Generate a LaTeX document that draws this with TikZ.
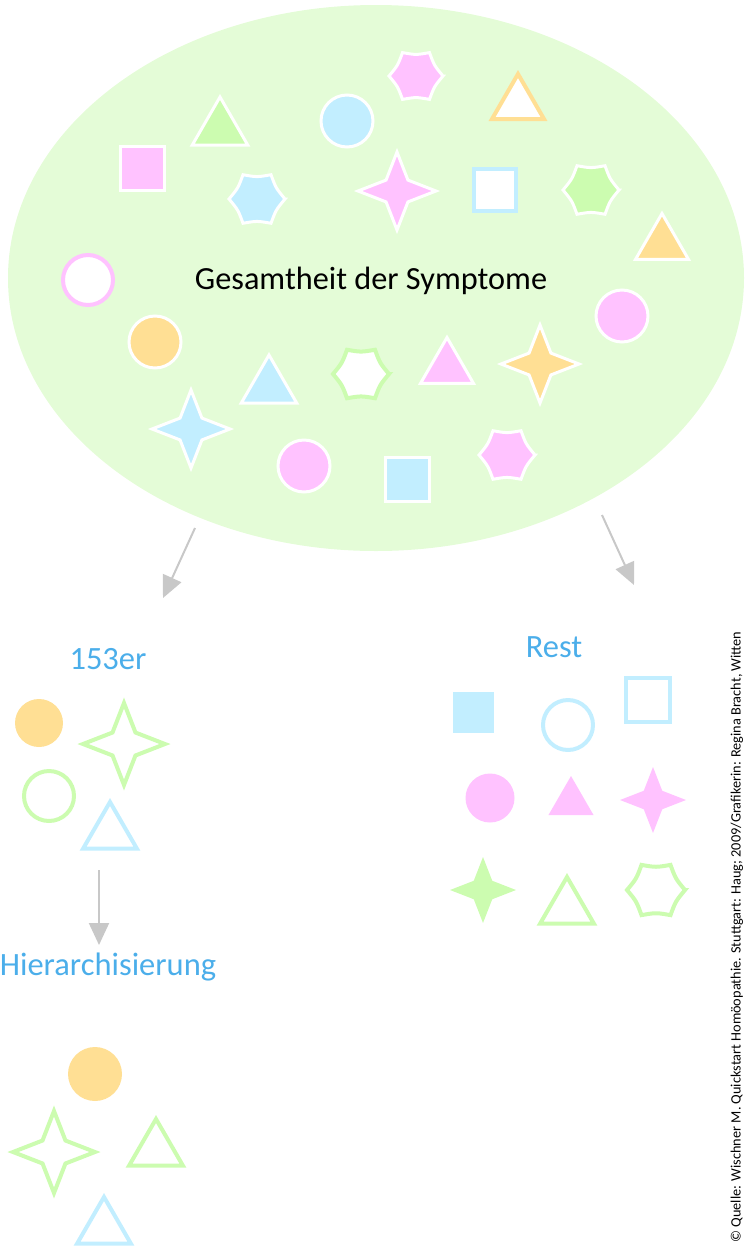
\documentclass[tikz,border=0pt]{standalone}
\usepackage{fontspec}
\setmainfont{Carlito}
\usetikzlibrary{arrows.meta}
\definecolor{ellfill}{HTML}{E4FCD7}
\definecolor{cpink}{HTML}{FFC2FF}
\definecolor{ccyan}{HTML}{C2EEFF}
\definecolor{cgreen}{HTML}{CCFCB0}
\definecolor{corange}{HTML}{FFDF94}
\definecolor{cblue}{HTML}{4BAEEA}
\definecolor{cgray}{HTML}{C8C8C8}
\tikzset{
  star4/.pic={\path[pic actions] (0,-1)--(0.28,-0.28)--(1,0)--(0.28,0.28)--(0,1)--(-0.28,0.28)--(-1,0)--(-0.28,-0.28)--cycle;},
  hexstar/.pic={\path[pic actions] (0:1) .. controls (30:0.78) .. (60:1) .. controls (90:0.78) .. (120:1) .. controls (150:0.78) .. (180:1) .. controls (210:0.78) .. (240:1) .. controls (270:0.78) .. (300:1) .. controls (330:0.78) .. cycle;},
  tri/.pic={\path[pic actions] (270:1)--(30:1)--(150:1)--cycle;},
  sq/.pic={\path[pic actions] (-0.5,-0.5) rectangle (0.5,0.5);},
  circ/.pic={\path[pic actions] (0,0) circle[radius=1pt];},
  inb/.style={draw=white, line width=3pt, line join=miter},
  fillp/.style={inb, fill=cpink},
  fillc/.style={inb, fill=ccyan},
  fillg/.style={inb, fill=cgreen},
  fillo/.style={inb, fill=corange},
  outl/.style={draw=#1, line width=4pt, fill=white},
  solid/.style={fill=#1, draw=none},
  lbl/.style={text=cblue, font=\fontsize{32.5}{36}\selectfont, inner sep=0pt},
  arr/.style={draw=cgray, line width=2pt, -{Triangle[width=20pt,length=22pt]}},
}
\begin{document}
\begin{tikzpicture}[x=1pt,y=-1pt]
\useasboundingbox (0,0) rectangle (750,1248);
% big ellipse
\path[fill=ellfill] (376,278) ellipse[x radius=368pt, y radius=273pt];
% shapes inside ellipse
\pic[fillp, scale=27] at (416,76) {hexstar};
\pic[outl=corange, scale=30] at (518,104) {tri};
\pic[fillg, scale=32] at (220,129) {tri};
\pic[fillc, scale=26] at (347,121) {circ};
\pic[fillp, scale=44] at (142,168) {sq};
\pic[fillc, scale=28] at (257,199) {hexstar};
\pic[fillp, scale=39] at (397,191) {star4};
\pic[outl=ccyan, scale=42] at (495,190) {sq};
\pic[fillg, scale=28] at (591,190) {hexstar};
\pic[fillo, scale=30.5] at (662,244) {tri};
\pic[outl=cpink, scale=25] at (88,280) {circ};
\pic[fillo, scale=26] at (155,342) {circ};
\pic[fillc, scale=32] at (269,387) {tri};
\pic[fillc, scale=39] at (191,429) {star4};
\pic[fillp, scale=26] at (304,466) {circ};
\pic[outl=cgreen, scale=28] at (361,374) {hexstar};
\pic[fillp, scale=30.5] at (447,368) {tri};
\pic[fillo, scale=39] at (540,364) {star4};
\pic[fillp, scale=26] at (622,316) {circ};
\pic[fillc, scale=44] at (407,479) {sq};
\pic[fillp, scale=28] at (507,455) {hexstar};
\node[font=\fontsize{32.3}{36}\selectfont, inner sep=0pt] (title) at (371,281) {Gesamtheit der Symptome};
% arrows
\coordinate (a1s) at (195,528); \coordinate (a1e) at (163,598);
\coordinate (a2s) at (602,515); \coordinate (a2e) at (634,585);
\coordinate (a3s) at (99,870);  \coordinate (a3e) at (99,945);
\draw[arr] (a1s) -- (a1e);
\draw[arr] (a2s) -- (a2e);
\draw[arr] (a3s) -- (a3e);
% 153er
\node[lbl] (l153) at (108,659) {153er};
\pic[solid=corange, scale=24] at (39,723) {circ};
\pic[outl=cgreen, scale=41] at (124,744) {star4};
\pic[outl=cgreen, scale=25] at (49,796) {circ};
\pic[outl=ccyan, scale=31] at (110,833) {tri};
% Rest
\node[lbl] (lrest) at (554,647) {Rest};
\pic[solid=ccyan, scale=41] at (473,712) {sq};
\pic[outl=ccyan, scale=25] at (568,725) {circ};
\pic[outl=ccyan, scale=44] at (648,700) {sq};
\pic[solid=cpink, scale=24.5] at (490,798) {circ};
\pic[solid=cpink, scale=26] at (571,802) {tri};
\pic[solid=cpink, scale=33] at (653,800) {star4};
\pic[solid=cgreen, scale=33] at (483,890) {star4};
\pic[outl=cgreen, scale=31] at (567,908) {tri};
\pic[outl=cgreen, scale=29] at (656,890) {hexstar};
% Hierarchisierung
\node[lbl] (lhier) at (108,967) {Hierarchisierung};
\pic[solid=corange, scale=27] at (95,1074) {circ};
\pic[outl=cgreen, scale=41] at (54,1152) {star4};
\pic[outl=cgreen, scale=31] at (156,1150) {tri};
\pic[outl=ccyan, scale=31] at (104,1228) {tri};
% credit
\node[rotate=90, font=\fontsize{14.3}{16}\selectfont, inner sep=0pt] (credit) at (737,937) {© Quelle: Wischner M. Quickstart Homöopathie. Stuttgart: Haug; 2009/Grafikerin: Regina Bracht, Witten};
\end{tikzpicture}
\end{document}
